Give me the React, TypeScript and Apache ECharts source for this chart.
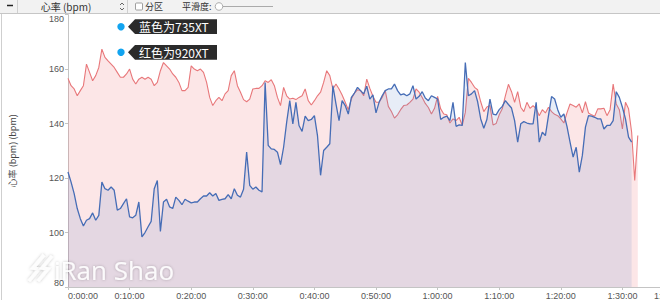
import React, { useEffect, useRef } from "react";
import * as echarts from "echarts";

// sample step: 30 s (0.5 min), times in seconds derived from the index
const stepSeconds = 30;

// red = 920XT heart rate (bpm)
const red920 = [
  156.6, 153.9, 152.7, 150.2, 152.1, 153.9, 161.8, 158.8, 155.7, 157.6,
  160.6, 167.3, 164.3, 163.0, 161.8, 160.6, 158.8, 157.0, 157.0, 158.2,
  160.0, 156.3, 154.5, 156.3, 157.0, 156.3, 157.0, 156.3, 153.9, 155.1,
  159.4, 162.4, 161.2, 160.0, 158.2, 157.0, 155.1, 152.1, 152.1, 153.3,
  161.2, 160.0, 159.4, 160.0, 158.8, 155.1, 149.6, 146.6, 148.4, 149.6,
  148.4, 150.9, 152.1, 157.6, 159.4, 153.9, 151.5, 148.8, 148.0, 149.0,
  152.7, 152.9, 152.9, 153.9, 155.7, 155.1, 156.1, 153.9, 149.6, 146.6,
  153.3, 150.2, 149.0, 149.3, 148.8, 149.6, 150.2, 152.7, 148.4, 146.8,
  148.4, 150.2, 151.5, 155.1, 159.4, 157.6, 152.7, 154.5, 152.7, 150.5,
  147.8, 145.1, 149.0, 151.2, 152.4, 152.1, 150.2, 156.3, 152.9, 150.0,
  147.8, 147.8, 149.6, 152.1, 146.3, 144.4, 142.0, 143.2, 145.1, 146.6,
  146.8, 147.8, 149.0, 152.7, 151.5, 149.6, 147.4, 145.9, 143.5, 145.6,
  150.0, 145.4, 143.5, 143.2, 140.2, 141.7, 141.1, 142.3, 139.3, 144.1,
  156.6, 155.1, 153.3, 152.4, 148.0, 144.4, 146.1, 146.6, 139.5, 140.0,
  143.2, 145.4, 150.2, 154.4, 151.7, 147.8, 151.7, 146.0, 144.4, 147.8,
  145.6, 146.6, 145.5, 142.9, 145.1, 143.9, 146.0, 144.4, 143.4, 142.9,
  141.7, 140.2, 143.9, 147.2, 146.6, 146.0, 147.2, 143.9, 148.0, 143.9,
  143.2, 142.7, 145.4, 145.4, 145.6, 142.9, 145.1, 154.5, 147.2, 145.1,
  138.0, 147.8, 145.4, 136.8, 119.1, 135.6,
];

// blue = 735XT heart rate (bpm)
const blue735 = [
  122.2, 118.5, 114.3, 108.8, 105.1, 102.4, 104.5, 105.1, 107.2, 104.5,
  106.3, 118.5, 116.1, 115.5, 116.7, 115.5, 108.2, 108.8, 110.6, 112.4,
  105.7, 105.4, 106.3, 111.2, 98.4, 100.0, 102.1, 104.1, 116.1, 119.1,
  100.4, 111.2, 112.2, 109.4, 108.8, 113.0, 111.8, 110.2, 112.2, 111.5,
  110.9, 111.2, 111.2, 112.4, 113.4, 113.4, 114.6, 113.4, 114.3, 111.8,
  112.2, 112.4, 113.9, 112.4, 116.1, 113.7, 113.0, 115.9, 129.5, 117.3,
  115.9, 116.7, 115.5, 114.9, 155.1, 132.0, 130.7, 130.5, 129.5, 124.9,
  131.3, 140.5, 148.4, 139.9, 147.8, 139.3, 137.1, 142.7, 141.1, 141.5,
  142.9, 135.6, 121.0, 130.1, 131.3, 132.6, 153.9, 147.2, 141.1, 148.4,
  146.6, 143.5, 149.6, 151.2, 153.3, 152.1, 150.9, 153.7, 149.0, 150.5,
  143.9, 147.8, 150.2, 152.1, 152.7, 152.7, 154.5, 152.1, 150.5, 150.9,
  150.2, 150.9, 153.9, 149.0, 150.0, 151.7, 149.4, 148.4, 150.2, 149.6,
  149.0, 141.5, 142.3, 142.7, 141.1, 147.8, 139.0, 139.5, 139.3, 162.4,
  150.2, 150.9, 152.1, 148.0, 141.7, 138.3, 141.5, 149.0, 143.5, 143.2,
  145.1, 146.3, 148.4, 147.0, 145.7, 141.1, 133.2, 139.9, 140.7, 140.2,
  139.9, 139.9, 147.8, 133.2, 136.8, 135.6, 142.9, 149.9, 149.0, 145.1,
  142.3, 143.5, 139.0, 133.2, 127.7, 131.3, 122.2, 128.3, 138.7, 142.9,
  142.7, 142.3, 141.7, 141.7, 138.0, 139.3, 139.3, 141.1, 151.7, 149.6,
  146.0, 141.7, 135.0, 133.2,
];

const yTicks = [80, 100, 120, 140, 160, 180];
const xMaxSeconds = 6000;
const xStepSeconds = 600;

const legendLabels = ["蓝色为735XT", "红色为920XT"];

function fmtTime(s: number) {
  const h = Math.floor(s / 3600);
  const m = Math.floor((s % 3600) / 60);
  const sec = Math.round(s % 60);
  return `${h}:${String(m).padStart(2, "0")}:${String(sec).padStart(2, "0")}`;
}

const LABEL_FONT = '"Liberation Sans", Arial, sans-serif';
const CJK_FONT = '"Noto Sans CJK SC", sans-serif';

export default function App() {
  const ref = useRef<HTMLDivElement>(null);

  useEffect(() => {
    if (!ref.current) return;
    const chart = echarts.init(ref.current, undefined, { renderer: "svg" });

    const redData = red920.map((v, i) => [i * stepSeconds, v]);
    const blueData = blue735.map((v, i) => [i * stepSeconds, v]);

    const callout = (cy: number, label: string) => [
      {
        type: "circle",
        shape: { cx: 121, cy, r: 3.7 },
        style: { fill: "#12a4f0" },
        z: 100,
      },
      {
        type: "polygon",
        shape: {
          points: [
            [128, cy],
            [135, cy - 7.4],
            [217, cy - 7.4],
            [217, cy + 7.4],
            [135, cy + 7.4],
          ],
        },
        style: { fill: "#2b2b2b" },
        z: 100,
      },
      {
        type: "text",
        x: 139,
        y: cy,
        style: {
          text: label,
          fill: "#ffffff",
          font: `12px ${CJK_FONT}`,
          textVerticalAlign: "middle",
          verticalAlign: "middle",
        },
        z: 101,
      },
    ];

    const header = [
      { type: "rect", shape: { x: 0, y: 0, width: 700, height: 13 }, style: { fill: "#f2f2f2" }, z: 100 },
      { type: "line", shape: { x1: 0, y1: 13.5, x2: 700, y2: 13.5 }, style: { stroke: "#c6c6c6", lineWidth: 1 }, z: 100 },
      { type: "line", shape: { x1: 7, y1: 5.5, x2: 13, y2: 5.5 }, style: { stroke: "#222", lineWidth: 1.5 }, z: 101 },
      { type: "line", shape: { x1: 17.5, y1: 0, x2: 17.5, y2: 13 }, style: { stroke: "#d0d0d0", lineWidth: 1 }, z: 101 },
      { type: "line", shape: { x1: 127.5, y1: 0, x2: 127.5, y2: 13 }, style: { stroke: "#d0d0d0", lineWidth: 1 }, z: 101 },
      {
        type: "text", x: 66, y: 6.5,
        style: { text: "心率 (bpm)", fill: "#333", font: `10px ${CJK_FONT}`, textAlign: "center", align: "center", textVerticalAlign: "middle", verticalAlign: "middle" },
        z: 101,
      },
      { type: "polyline", shape: { points: [[120, 5], [122, 3], [124, 5]] }, style: { stroke: "#555", fill: null, lineWidth: 0.9 }, z: 101 },
      { type: "polyline", shape: { points: [[120, 8], [122, 10], [124, 8]] }, style: { stroke: "#555", fill: null, lineWidth: 0.9 }, z: 101 },
      { type: "rect", shape: { x: 135.5, y: 3, width: 7, height: 7, r: 1 }, style: { fill: "#fff", stroke: "#888", lineWidth: 0.8 }, z: 101 },
      {
        type: "text", x: 145, y: 6.5,
        style: { text: "分区", fill: "#333", font: `9px ${CJK_FONT}`, textVerticalAlign: "middle", verticalAlign: "middle" },
        z: 101,
      },
      {
        type: "text", x: 182, y: 6.5,
        style: { text: "平滑度:", fill: "#333", font: `9px ${CJK_FONT}`, textVerticalAlign: "middle", verticalAlign: "middle" },
        z: 101,
      },
      { type: "line", shape: { x1: 218, y1: 6.5, x2: 273, y2: 6.5 }, style: { stroke: "#aaa", lineWidth: 1.2 }, z: 101 },
      { type: "circle", shape: { cx: 219, cy: 6.5, r: 3.8 }, style: { fill: "#fff", stroke: "#999", lineWidth: 0.8 }, z: 102 },
    ];

    const leftBorder = [
      { type: "line", shape: { x1: 1.5, y1: 13, x2: 1.5, y2: 300 }, style: { stroke: "#cfcfcf", lineWidth: 1 }, z: 100 },
    ];

    const wmStroke = {
      stroke: "rgba(255,255,255,0.9)",
      fill: null,
      lineWidth: 3.5,
      shadowColor: "rgba(0,0,0,0.28)",
      shadowBlur: 3,
    };
    const watermark = [
      {
        type: "polyline",
        shape: { points: [[44, 255], [33, 268], [39, 269], [29, 281]] },
        style: wmStroke,
        z: 90,
      },
      {
        type: "polyline",
        shape: { points: [[52, 256], [42, 268], [48, 269], [38, 281]] },
        style: wmStroke,
        z: 90,
      },
      {
        type: "text",
        x: 54,
        y: 270,
        style: {
          text: "iRan Shao",
          fill: "rgba(255,255,255,0.9)",
          font: `26px "Open Sans", sans-serif`,
          textVerticalAlign: "middle",
          verticalAlign: "middle",
          textShadowColor: "rgba(0,0,0,0.28)",
          textShadowBlur: 3,
        },
        z: 90,
      },
    ];

    chart.setOption({
      animation: false,
      grid: { left: 67, right: 16, top: 14.6, bottom: 12, containLabel: false },
      xAxis: {
        type: "value",
        min: 0,
        max: xMaxSeconds,
        interval: xStepSeconds,
        axisLine: { show: true, lineStyle: { color: "#c4c4c4", width: 1 } },
        axisTick: { show: true, length: 3, inside: false, lineStyle: { color: "#c4c4c4" } },
        splitLine: { show: false },
        axisLabel: {
          formatter: (v: number) => fmtTime(v),
          color: "#555",
          fontSize: 9,
          fontFamily: LABEL_FONT,
          margin: 4,
          alignMinLabel: "left",
          alignMaxLabel: "right",
          showMinLabel: true,
          showMaxLabel: true,
        },
      },
      yAxis: {
        type: "value",
        min: yTicks[0],
        max: yTicks[yTicks.length - 1],
        interval: 20,
        name: "心率 (bpm) (bpm)",
        nameLocation: "middle",
        nameRotate: 90,
        nameGap: 51,
        nameTextStyle: { color: "#444", fontSize: 9, fontFamily: CJK_FONT },
        axisLine: { show: true, lineStyle: { color: "#c4c4c4", width: 1 } },
        axisTick: { show: true, length: 3, lineStyle: { color: "#c4c4c4" } },
        splitLine: { show: false },
        axisLabel: {
          color: "#555",
          fontSize: 9,
          fontFamily: LABEL_FONT,
          margin: 4,
          verticalAlignMinLabel: "bottom",
          verticalAlignMaxLabel: "top",
        },
      },
      series: [
        {
          name: "920XT",
          type: "line",
          data: redData,
          showSymbol: false,
          symbol: "none",
          lineStyle: { color: "#e8777a", width: 1.1 },
          itemStyle: { color: "#e8777a" },
          areaStyle: { color: "rgba(238,115,120,0.25)" },
          z: 2,
        },
        {
          name: "735XT",
          type: "line",
          data: blueData,
          showSymbol: false,
          symbol: "none",
          lineStyle: { color: "#466db6", width: 1.3 },
          itemStyle: { color: "#466db6" },
          areaStyle: { color: "rgba(95,135,200,0.22)" },
          z: 3,
        },
      ],
      graphic: [
        ...leftBorder,
        ...watermark,
        ...callout(26.7, legendLabels[0]),
        ...callout(52.3, legendLabels[1]),
        ...header,
      ],
    });

    return () => chart.dispose();
  }, []);

  return (
    <div
      style={{
        position: "fixed",
        left: 0,
        top: 0,
        width: 660,
        height: 300,
        overflow: "hidden",
        background: "#ffffff",
      }}
    >
      <div ref={ref} style={{ width: 700, height: 300 }} />
    </div>
  );
}
